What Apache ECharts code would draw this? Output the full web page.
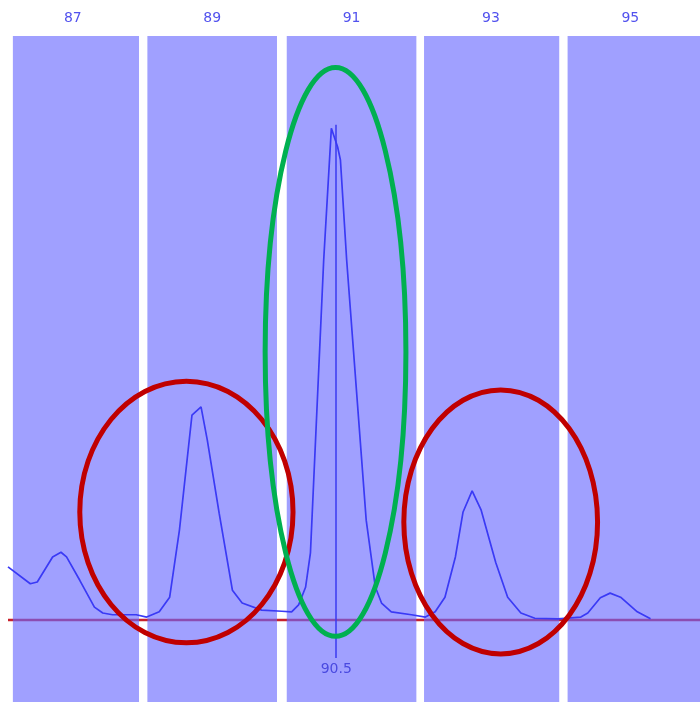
<!DOCTYPE html>
<html>
<head>
<meta charset="utf-8">
<script src="https://cdn.jsdelivr.net/npm/echarts@6/dist/echarts.min.js"></script>
<style>
html, body { margin: 0; padding: 0; background: #fff; }
#main { width: 700px; height: 702px; }
</style>
</head>
<body>
<div id="main"></div>
<script>
// bin labels and bin edges (x units)
const binLabels = [87, 89, 91, 93, 95];
const binStart = [86.14, 88.07, 90.07, 92.04, 94.1];
const binEnd = [87.95, 89.93, 91.93, 93.98, 96.2];

// trace (x, intensity)
const traceX = [86.07, 86.39, 86.49, 86.71, 86.83, 86.91, 87.10, 87.31, 87.43, 87.57, 87.91,
  88.06, 88.24, 88.39, 88.53, 88.71, 88.84, 88.93, 89.10, 89.29, 89.43, 89.71, 90.00,
  90.14, 90.24, 90.34, 90.41, 90.60, 90.71, 90.80, 90.84, 90.93, 91.21, 91.34, 91.43,
  91.57, 91.86, 92.06, 92.20, 92.34, 92.49, 92.60, 92.73, 92.86, 93.07, 93.24, 93.43,
  93.63, 93.96, 94.29, 94.39, 94.57, 94.71, 94.86, 95.10, 95.29];
const traceY = [9.1, 6.2, 6.5, 10.8, 11.6, 10.8, 6.8, 2.2, 1.2, 0.9, 0.9,
  0.5, 1.4, 3.9, 15.4, 35.1, 36.5, 30.8, 18.3, 5.1, 2.9, 1.7, 1.5,
  1.4, 2.6, 5.6, 11.5, 61.6, 84.2, 81.0, 78.8, 61.6, 17.1, 5.7, 2.9,
  1.4, 0.9, 0.5, 1.4, 3.9, 10.8, 18.5, 22.1, 18.8, 9.8, 3.9, 1.2,
  0.3, 0.2, 0.5, 1.2, 3.8, 4.6, 3.9, 1.4, 0.2];

// marker
const markerX = 90.78;
const markerTop = 84.8;
const markerBottom = -6.5;
const markerLabel = '90.5';

// annotation ellipses in data units
const ellipseCx = [88.63, 90.77, 93.14];
const ellipseCy = [18.5, 45.9, 16.8];
const ellipseRx = [1.53, 1.01, 1.39];
const ellipseRy = [22.4, 48.7, 22.6];
const ellipseColor = ['#c00000', '#00b050', '#c00000'];

const xMin = 86.07, xMax = 96.0;
const yMin = -14.04, yMax = 100;

const chart = echarts.init(document.getElementById('main'));

const option = {
  animation: false,
  grid: { left: 8, right: 0, top: 36, bottom: 0 },
  xAxis: {
    type: 'value',
    position: 'top',
    min: xMin,
    max: xMax,
    splitLine: { show: false },
    axisLine: { show: false },
    axisTick: { show: false },
    axisLabel: {
      customValues: binLabels,
      color: '#5252ee',
      fontSize: 14,
      fontFamily: 'DejaVu Sans',
      margin: 11
    }
  },
  yAxis: {
    type: 'value',
    min: yMin,
    max: yMax,
    show: false
  },
  series: [
    {
      // baseline
      type: 'line',
      z: 1,
      symbol: 'none',
      silent: true,
      data: [[xMin, 0], [xMax, 0]],
      lineStyle: { color: '#c8202c', width: 2.5 }
    },
    {
      type: 'custom',
      z: 2,
      silent: true,
      data: binStart.map((s, i) => [s, binEnd[i]]),
      renderItem: function (params, api) {
        const a = api.coord([api.value(0), 0]);
        const b = api.coord([api.value(1), 0]);
        return {
          type: 'rect',
          shape: {
            x: a[0], y: params.coordSys.y,
            width: b[0] - a[0], height: params.coordSys.height
          },
          style: { fill: 'rgba(105,105,255,0.63)' }
        };
      }
    },
    {
      type: 'line',
      z: 3,
      symbol: 'none',
      data: traceX.map((x, i) => [x, traceY[i]]),
      lineStyle: { color: '#3a3af5', width: 1.7 },
      markLine: {
        symbol: 'none',
        silent: true,
        lineStyle: { color: '#3a3af0', width: 1.5, type: 'solid' },
        label: {
          show: true,
          position: 'end',
          formatter: markerLabel,
          color: '#4a4ae0',
          fontSize: 14,
          fontFamily: 'DejaVu Sans',
          distance: 4
        },
        data: [[{ coord: [markerX, markerTop] }, { coord: [markerX, markerBottom] }]]
      }
    }
  ]
};

chart.setOption(option);

// annotation ellipses placed via the axes
const ellipses = ellipseCx.map((cx, i) => {
  const c = chart.convertToPixel({ gridIndex: 0 }, [cx, ellipseCy[i]]);
  const e = chart.convertToPixel({ gridIndex: 0 }, [cx + ellipseRx[i], ellipseCy[i] + ellipseRy[i]]);
  return {
    type: 'ellipse',
    z: 100,
    silent: true,
    shape: { cx: c[0], cy: c[1], rx: Math.abs(e[0] - c[0]), ry: Math.abs(c[1] - e[1]) },
    style: { fill: null, stroke: ellipseColor[i], lineWidth: 5 }
  };
});
chart.setOption({ graphic: ellipses });
</script>
</body>
</html>
